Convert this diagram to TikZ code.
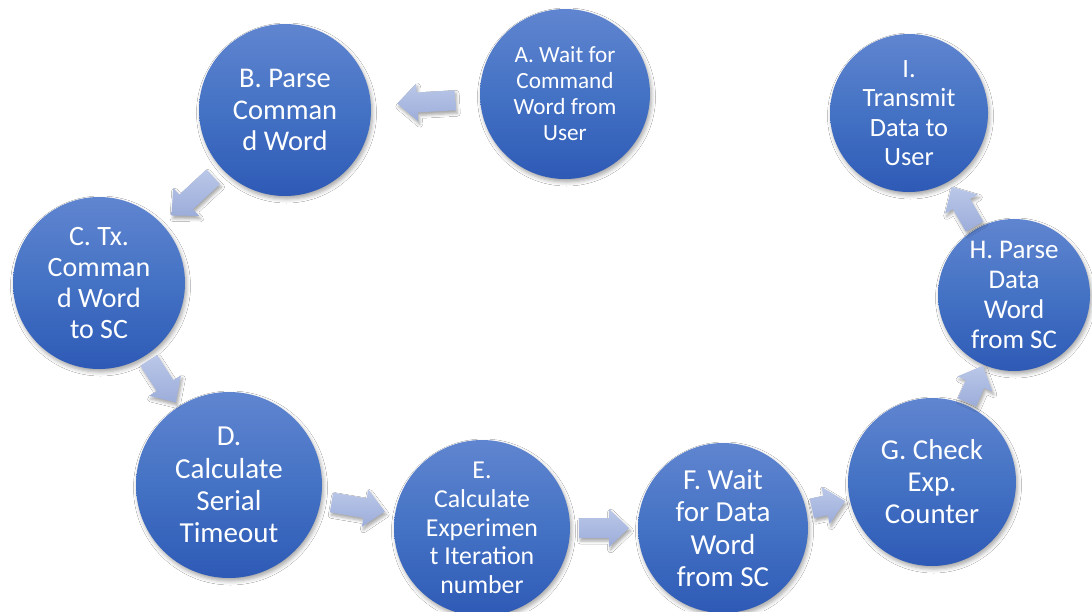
\documentclass[tikz,border=0pt]{standalone}
\usepackage{fontspec}
\setmainfont{Carlito}
\usetikzlibrary{calc,shadows.blur}

\definecolor{discTop}{RGB}{96,133,208}
\definecolor{discMid}{RGB}{68,114,196}
\definecolor{discBot}{RGB}{46,90,182}
\definecolor{arrTop}{RGB}{186,199,232}
\definecolor{arrBot}{RGB}{156,173,218}

\tikzset{
  disc/.style={circle, draw=none, inner sep=0pt,
    top color=discTop, bottom color=discBot, middle color=discMid,
    blur shadow={shadow xshift=1.5pt, shadow yshift=-3pt,
      shadow blur radius=4pt, shadow opacity=35}},
  caption/.style={text=white, align=center, inner sep=0pt},
  flowarrow/.style={draw=none, top color=arrTop, bottom color=arrBot,
    blur shadow={shadow xshift=1.5pt, shadow yshift=-3pt,
      shadow blur radius=3pt, shadow opacity=35}},
}

% block arrow from node #1 towards node #2; tail and tip lie at
% distances #3 and #4 from the centre of #1
\newcommand\flowstep[4]{%
  \path
    coordinate (#1#2t) at ($(#1)!#3!(#2)$)
    coordinate (#1#2p) at ($(#1)!#4!(#2)$)
    coordinate (#1#2h) at ($(#1#2p)!20pt!(#1#2t)$);
  \path[flowarrow]
    ($(#1#2t)!10pt!90:(#1#2p)$) -- ($(#1#2h)!10pt!90:(#1#2p)$)
    -- ($(#1#2h)!19pt!90:(#1#2p)$) -- (#1#2p)
    -- ($(#1#2h)!19pt!-90:(#1#2p)$) -- ($(#1#2h)!10pt!-90:(#1#2p)$)
    -- ($(#1#2t)!10pt!-90:(#1#2p)$) -- cycle;
}

\begin{document}
\begin{tikzpicture}[x=1pt, y=-1pt]
  \useasboundingbox[fill=white] (0,0) rectangle (1092,611);

  % the nine stages
  \node[disc, minimum size=170pt] (A) at (565,94)  {};
  \node[disc, minimum size=172pt] (B) at (285,110) {};
  \node[disc, minimum size=172pt] (C) at (99,283)  {};
  \node[disc, minimum size=186pt] (D) at (229,485) {};
  \node[disc, minimum size=176pt] (E) at (482,528) {};
  \node[disc, minimum size=170pt] (F) at (723,528) {};
  \node[disc, minimum size=168pt] (G) at (932,482) {};
  \node[disc, minimum size=152pt] (H) at (1014,295) {};
  \node[disc, minimum size=158pt] (I) at (909,113) {};

  % stage labels
  \node[caption, font=\fontsize{23.2}{26}\selectfont]   (Atext) at (A) {A. Wait for\\Command\\Word from\\User};
  \node[caption, font=\fontsize{28.5}{31.7}\selectfont] (Btext) at (B) {B. Parse\\Comman\\d Word};
  \node[caption, font=\fontsize{28}{31.1}\selectfont]   (Ctext) at (C) {C. Tx.\\Comman\\d Word\\to SC};
  \node[caption, font=\fontsize{29}{32.2}\selectfont]   (Dtext) at (D) {D.\\Calculate\\Serial\\Timeout};
  \node[caption, font=\fontsize{25.8}{28.7}\selectfont] (Etext) at (E) {E.\\Calculate\\Experimen\\t Iteration\\number};
  \node[caption, font=\fontsize{29}{32.4}\selectfont]   (Ftext) at (F) {F. Wait\\for Data\\Word\\from SC};
  \node[caption, font=\fontsize{28.8}{32}\selectfont]   (Gtext) at (G) {G. Check\\Exp.\\Counter};
  \node[caption, font=\fontsize{27}{30}\selectfont]     (Htext) at (H) {H. Parse\\Data\\Word\\from SC};
  \node[caption, font=\fontsize{26.4}{29.4}\selectfont] (Itext) at (I) {I.\\Transmit\\Data to\\User};

  % transitions
  \flowstep{A}{B}{110pt}{168pt}
  \flowstep{B}{C}{98pt}{155pt}
  \flowstep{C}{D}{92pt}{142pt}
  \flowstep{D}{E}{104pt}{158pt}
  \flowstep{E}{F}{97pt}{147pt}
  \flowstep{F}{G}{91pt}{125pt}
  \flowstep{G}{H}{87pt}{127pt}
  \flowstep{H}{I}{79pt}{125pt}
\end{tikzpicture}
\end{document}
